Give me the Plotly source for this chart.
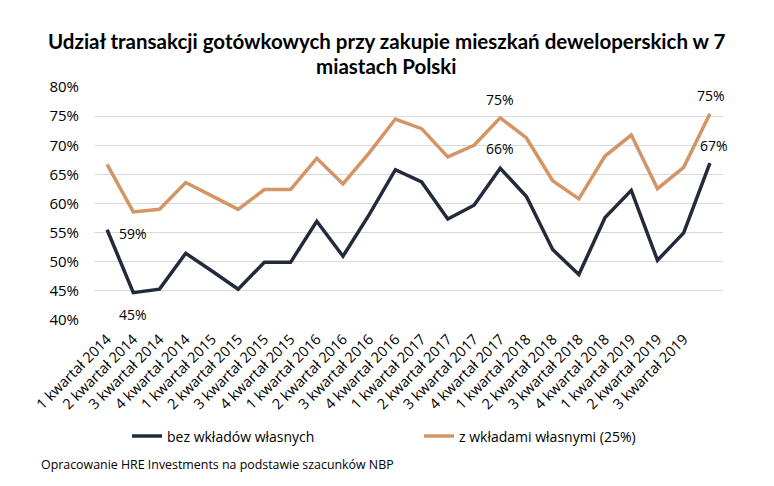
import plotly.graph_objects as go

categories = [f"{q} kwartał {y}" for y in range(2014, 2020) for q in range(1, 5)]
tick_labels = categories[:23] + [""]

bez_wkladow = [55.5, 44.7, 45.3, 51.45, 48.4, 45.3, 49.9, 49.9, 56.95, 50.95, 58.1, 65.8,
               63.7, 57.35, 59.7, 66.05, 61.2, 52.1, 47.8, 57.6, 62.25, 50.25, 54.95, 66.95]
z_wkladami = [66.7, 58.55, 59.0, 63.6, 61.3, 59.0, 62.4, 62.4, 67.75, 63.35, 68.7, 74.5,
              72.85, 68.0, 70.0, 74.7, 71.25, 63.9, 60.8, 68.15, 71.75, 62.55, 66.2, 75.4]

title_lines = ["Udział transakcji gotówkowych przy zakupie mieszkań deweloperskich w 7",
               "miastach Polski"]

dark = "#232B3B"
orange = "#D39466"

fig = go.Figure()
fig.add_trace(go.Scatter(x=categories, y=bez_wkladow, mode="lines", name="bez wkładów własnych",
                         line=dict(color=dark, width=3.5)))
fig.add_trace(go.Scatter(x=categories, y=z_wkladami, mode="lines", name="z wkładami własnymi (25%)",
                         line=dict(color=orange, width=3.5)))

# data labels: (series, index, yshift, xshift)
labels = [(z_wkladami, 1, -22, 0), (bez_wkladow, 1, -22, 0),
          (z_wkladami, 15, 18, 0), (bez_wkladow, 15, 20, 0),
          (z_wkladami, 23, 18, 1), (bez_wkladow, 23, 18, 4)]
for series, i, ys, xs in labels:
    fig.add_annotation(x=categories[i], y=series[i], text=f"{round(series[i])}%", showarrow=False,
                       yshift=ys, xshift=xs, font=dict(family="Open Sans", size=14, color="#000000"))

for line, yy in zip(title_lines, [1.198, 1.09]):
    fig.add_annotation(xref="paper", yref="paper", x=0.4658, y=yy, xanchor="center", yanchor="middle",
                       text=f"<b>{line}</b>", showarrow=False,
                       font=dict(family="Lato", size=20.5, color="#000000"))

fig.add_annotation(xref="paper", yref="paper", x=-0.0875, y=-0.622, xanchor="left", yanchor="middle",
                   text="Opracowanie HRE Investments na podstawie szacunków NBP", showarrow=False,
                   font=dict(family="Open Sans", size=12.4, color="#000000"))

fig.update_layout(
    width=774, height=486,
    margin=dict(l=86, r=59, t=79, b=174, autoexpand=False),
    paper_bgcolor="white", plot_bgcolor="white",
    legend=dict(orientation="h", x=0.0525, y=-0.5, xanchor="left", yanchor="middle",
                font=dict(family="Open Sans", size=14, color="#000000"),
                entrywidth=247, entrywidthmode="pixels"),
    showlegend=True,
)
fig.update_xaxes(tickmode="array", tickvals=categories, ticktext=tick_labels, tickangle=-45,
                 range=[-0.5, 23.5],
                 showgrid=False, showline=False, ticks="", automargin=False, ticklabelstandoff=7,
                 tickfont=dict(family="Open Sans", size=14.5, color="#000000"))
fig.update_yaxes(range=[40, 80], dtick=5, ticksuffix="%", showgrid=True, gridcolor="#D9D9D9",
                 gridwidth=1, zeroline=False, showline=False, ticks="", ticklabelstandoff=14,
                 automargin=False,
                 tickfont=dict(family="Open Sans", size=15, color="#000000"))

fig.write_html("out.html")
